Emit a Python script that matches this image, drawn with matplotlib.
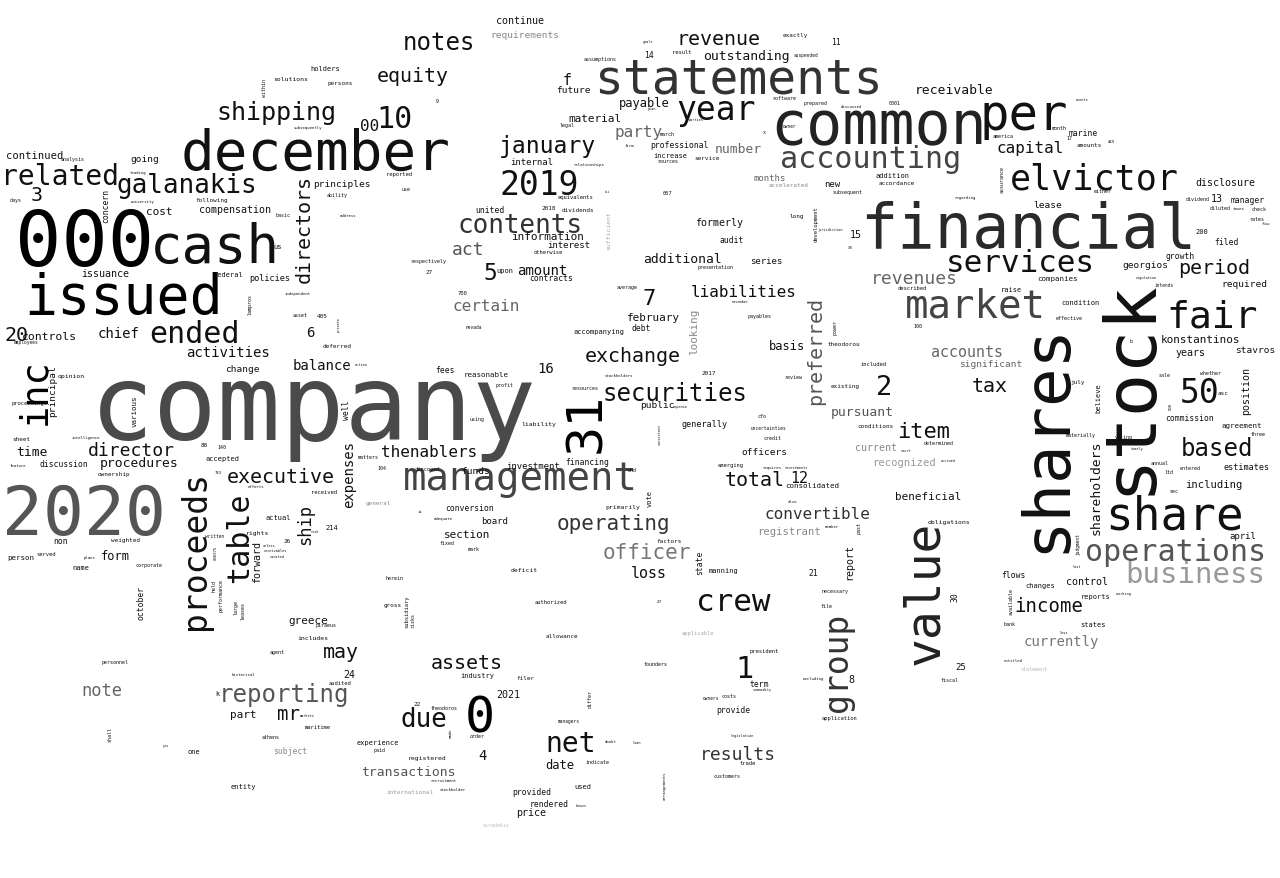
import matplotlib
matplotlib.use("Agg")
import matplotlib.pyplot as plt

# 词云数据：单词与字号（字号近似词频）
big_words = ["company", "financial", "statements", "common", "december", "000", "cash", "issued", "2020", "management",
             "market", "share", "per", "elvictor", "services", "fair", "operations", "business", "accounting", "crew",
             "net", "0", "year", "2019", "contents", "galanakis", "related", "shipping", "ended", "january",
             "reporting", "securities", "based", "item", "operating", "officer", "due", "50", "2", "1",
             "10", "3", "20", "5", "7"]
big_sizes = [106, 62, 48, 60, 56, 77, 54, 55, 68, 39,
             39, 46, 49, 35, 31, 38, 30, 29, 30, 31,
             28, 50, 33, 33, 26, 26, 28, 25, 30, 23,
             24, 24, 24, 22, 21, 21, 26, 33, 27, 30,
             30, 20, 20, 23, 22]

mid_words = ["exchange", "executive", "revenue", "period", "assets", "income", "total", "tax", "may", "mr",
             "director", "results", "revenues", "equity", "notes", "act", "note", "thenablers", "capital", "party",
             "liabilities", "certain", "convertible", "00", "accounts", "loss", "f", "12", "chief", "activities",
             "balance", "amount", "currently", "16", "6", "4", "time", "procedures", "receivable", "outstanding",
             "number", "additional", "pursuant", "transactions", "date", "payable", "basis", "form", "controls", "cost",
             "konstantinos", "february", "material", "information", "beneficial", "section", "greece", "part", "including", "recognized",
             "registrant", "continued", "continue", "13", "15", "8", "24", "2021", "disclosure", "years",
             "current", "control", "formerly", "compensation", "issuance", "price"]
mid_sizes = [20, 20, 20, 20, 20, 19, 20, 20, 20, 19,
             18, 18, 18, 20, 24, 18, 17, 16, 16, 16,
             16, 16, 16, 16, 15, 15, 15, 15, 14, 14,
             14, 14, 14, 14, 14, 14, 13, 13, 13, 13,
             13, 13, 13, 13, 12, 12, 12, 12, 11.5, 11,
             11, 11, 11, 11, 11, 11, 11, 11, 10.5, 10.5,
             10.5, 10.5, 10, 10, 10, 10, 10, 10, 10, 10,
             10, 10, 10, 10, 10, 10]

small_words = ["requirements", "future", "lease", "georgios", "required", "stavros", "significant", "going", "principles", "change",
               "public", "officers", "funds", "internal", "months", "new", "interest", "series", "april", "investment",
               "board", "25", "estimates", "policies", "generally", "marine", "manager", "filed", "growth", "professional",
               "commission", "flows", "united", "audit", "contracts", "discussion", "non", "subject", "debt", "fees",
               "conversion", "financing", "term", "provide", "provided", "rendered", "11", "14", "21", "agreement",
               "companies", "person", "reasonable", "consolidated", "addition", "raise", "condition", "changes", "reports", "states",
               "increase", "upon", "holders", "us", "federal", "accepted", "actual", "214", "name", "k",
               "experience", "one", "entity", "industry", "used", "accompanying", "manning", "200", "obligations", "opinion",
               "solutions", "rights", "includes", "registered", "liability", "primarily", "deficit", "accordance", "exactly", "service",
               "accelerated", "long", "dividends", "2018", "2017", "theodorou", "existing", "july", "asc", "conditions",
               "amounts", "persons", "following", "deferred", "sheet", "ownership", "weighted", "general", "gross", "international",
               "allowance", "filer", "factors", "405", "26", "27", "80", "22"]
small_sizes = [9.5, 9.5, 9.5, 9.5, 9.5, 9.5, 9.5, 9.5, 9.5, 9.5,
               9.5, 9.5, 9.5, 9, 9, 9, 9, 9, 9, 9,
               9, 9, 8.5, 8.5, 8.5, 8, 8, 8, 8, 8,
               8, 8, 8, 8, 8, 8, 8, 8, 8, 8,
               8, 8, 8, 8, 8, 8, 8, 8, 8, 7.5,
               7.5, 7.5, 7.5, 7.5, 7, 7, 7, 7, 7, 7,
               7, 7, 7, 7, 7, 7, 7, 7, 7, 7,
               7, 7, 7, 7, 7, 7, 7, 7, 6.5, 6.5,
               6.5, 6.5, 6.5, 6.5, 6.5, 6.5, 6.5, 6, 6, 6,
               6, 6, 6, 6, 6, 6, 6, 6, 6, 6,
               6, 6, 6, 6, 6, 6, 6, 6, 6, 6,
               6, 6, 6, 6, 6, 6, 6, 6]

tiny_words = ["included", "described", "result", "reported", "proceedings", "discount", "received", "served", "audited", "maritime",
              "authorized", "applicable", "president", "application", "trade", "equivalents", "otherwise", "emerging", "700", "057",
              "subsequent", "either", "dividend", "diluted", "check", "rates", "america", "month", "effective", "b",
              "sale", "whether", "materially", "voting", "three", "determined", "annual", "entered", "ltd", "sec",
              "bank", "statement", "fiscal", "assumptions", "software", "prepared", "legal", "march", "sources", "presentation",
              "average", "respectively", "analysis", "days", "ability", "basic", "use", "asset", "matters", "corporate",
              "herein", "piraeus", "agent", "personnel", "athens", "paid", "necessary", "file", "founders", "costs",
              "theodoros", "order", "indicate", "customers", "xiradakis", "payables", "profit", "resources", "review", "using",
              "cfo", "credit", "end", "fixed", "mark", "140", "104", "100", "0001", "17",
              "9", "x", "owner", "suspended", "intends", "employees", "written", "managers", "owners", "nevada",
              "uncertainties", "regarding", "taxes", "firm", "relationships", "trading", "university", "address", "subsequently", "independent",
              "intelligence", "feature", "efforts", "plans", "historical", "recruitment", "stockholder", "stockholders", "doubt", "requires",
              "adequate", "also", "member", "449", "743", "ii", "discussed", "excluding", "entitled", "flow",
              "regulation", "events", "goals", "plan", "parties", "jurisdiction", "court", "accrued", "timely", "last",
              "working", "less", "action", "risk", "unless", "receivables", "vacated", "markets", "yes", "known",
              "commodity", "legislation", "loan", "november", "expense", "investments", "iii", "297", "105"]
tiny_sizes = [5.5, 5.5, 5.5, 5.5, 5.5, 5.5, 5.5, 5.5, 5.5, 5.5,
              5.5, 5.5, 5.5, 5.5, 5.5, 5.5, 5.5, 5.5, 5.5, 5.5,
              5, 5, 5, 5, 5, 5, 5, 5, 5, 5,
              5, 5, 5, 5, 5, 5, 5, 5, 5, 5,
              5, 5, 5, 5, 5, 5, 5, 5, 5, 5,
              5, 5, 5, 5, 5, 5, 5, 5, 5, 5,
              5, 5, 5, 5, 5, 5, 5, 5, 5, 5,
              5, 5, 5, 5, 5, 5, 5, 5, 5, 5,
              5, 5, 5, 5, 5, 5, 5, 5, 5, 5,
              5, 5, 4.5, 4.5, 4.5, 4.5, 4.5, 4.5, 4.5, 4.5,
              4.5, 4, 4, 4, 4, 4, 4, 4, 4, 4,
              4, 4, 4, 4, 4, 4, 4, 4, 4, 4,
              4, 4, 4, 4, 4, 4, 4, 4, 4, 3.5,
              3.5, 3.5, 3.5, 3.5, 3.5, 3.5, 3.5, 3.5, 3.5, 3.5,
              3.5, 3.5, 3.5, 3.5, 3.5, 3.5, 3.5, 3.5, 3.5, 3.5,
              3.5, 3.5, 3.5, 3.5, 3.5, 3.5, 3, 3, 3]

# 竖排的单词
vert_words = ["shares", "stock", "value", "proceeds", "table", "group", "31", "inc", "directors", "preferred",
              "expenses", "shareholders", "ship", "forward", "looking", "report", "position", "principal", "october", "various",
              "well", "concern", "believe", "state", "vote", "30", "sufficient", "development", "subsidiary", "risks",
              "available", "within", "lampros", "performance", "held", "large", "leases", "shall", "differ", "made",
              "arrangements", "judgment", "assurance", "power", "past", "500", "private", "000375", "consistent"]
vert_sizes = [64, 72, 48, 33, 30, 33, 50, 37, 20, 20,
              14, 13, 17, 10, 11, 10, 10, 9.5, 8, 7.5,
              8, 8, 7, 8, 7, 8, 6.5, 5.5, 5.5, 5,
              5, 5, 5, 5, 5, 5, 5, 5, 5, 4,
              4, 4.5, 5, 5, 5, 4, 3.5, 4, 3.5]

# 版面：横排为 (左端x, 基线y)，竖排为 (基线x, 底端y)，单位为像素
layout = {
    "company": (90, 440), "financial": (860, 248), "statements": (594, 94), "common": (770, 144),
    "december": (181, 170), "000": (15, 266), "cash": (150, 263), "issued": (24, 314), "2020": (2, 535),
    "management": (403, 490), "market": (905, 318), "share": (1105, 530), "per": (979, 130),
    "elvictor": (1010, 190), "services": (946, 272), "fair": (1166, 328), "operations": (1085, 561),
    "business": (1125, 583), "accounting": (780, 168), "crew": (696, 611), "net": (545, 752),
    "0": (465, 733), "year": (676, 120), "2019": (500, 195), "contents": (457, 233),
    "galanakis": (117, 193), "related": (1, 185), "shipping": (216, 120), "ended": (149, 343),
    "january": (499, 153), "reporting": (219, 702), "securities": (603, 401), "based": (1181, 456),
    "item": (897, 438), "operating": (557, 530), "officer": (603, 559), "due": (400, 727),
    "50": (1180, 403), "2": (876, 395), "1": (735, 678), "10": (376, 128), "3": (31, 201),
    "20": (4, 341), "5": (483, 280), "7": (643, 305),
    # 中等
    "exchange": (585, 362), "executive": (227, 483), "revenue": (677, 45), "period": (1178, 274),
    "assets": (431, 669), "income": (1014, 612), "total": (725, 486), "tax": (972, 392),
    "may": (323, 658), "mr": (277, 720), "director": (88, 456), "results": (700, 760),
    "revenues": (871, 284), "equity": (377, 82), "notes": (403, 50), "act": (452, 255),
    "note": (81, 696), "thenablers": (381, 457), "capital": (996, 153), "party": (614, 137),
    "liabilities": (691, 297), "certain": (453, 311), "convertible": (764, 519), "00": (360, 131),
    "accounts": (931, 357), "loss": (631, 578), "f": (563, 85), "12": (790, 483),
    "chief": (98, 338), "activities": (186, 357), "balance": (293, 370), "amount": (517, 275),
    "currently": (1024, 646), "16": (537, 373), "6": (306, 337), "4": (478, 760),
    "time": (16, 456), "procedures": (100, 467), "receivable": (915, 94), "outstanding": (703, 60),
    "number": (715, 153), "additional": (643, 263), "pursuant": (831, 416), "transactions": (361, 776),
    "date": (545, 769), "payable": (619, 107), "basis": (769, 350), "form": (101, 560),
    "controls": (22, 340), "cost": (146, 215), "konstantinos": (1161, 343), "february": (627, 321),
    "material": (568, 122), "information": (511, 240), "beneficial": (895, 500), "section": (444, 538),
    "greece": (288, 624), "part": (230, 718), "including": (1185, 488), "recognized": (872, 466),
    "registrant": (757, 535), "continued": (6, 159), "continue": (496, 24), "13": (1211, 202),
    "15": (850, 238), "8": (848, 683), "24": (343, 678), "2021": (496, 698), "disclosure": (1195, 186),
    "years": (1175, 356), "current": (855, 451), "control": (1066, 585), "formerly": (695, 226),
    "compensation": (199, 213), "issuance": (81, 277), "price": (516, 816),
    # 较小
    "requirements": (490, 38), "future": (556, 93), "lease": (1033, 208), "georgios": (1122, 268),
    "required": (1221, 287), "stavros": (1235, 353), "significant": (959, 367), "going": (130, 162),
    "principles": (313, 187), "change": (225, 372), "public": (640, 408), "officers": (741, 455),
    "funds": (461, 474), "internal": (510, 165), "months": (753, 181), "new": (824, 187),
    "interest": (547, 248), "series": (750, 264), "april": (1229, 539), "investment": (506, 469),
    "board": (481, 524), "25": (955, 670), "estimates": (1223, 470), "policies": (249, 281),
    "generally": (682, 427), "marine": (1069, 136), "manager": (1231, 203), "filed": (1214, 245),
    "growth": (1166, 259), "professional": (650, 148), "commission": (1165, 421), "flows": (1001, 578),
    "united": (475, 213), "audit": (720, 243), "contracts": (529, 281), "discussion": (40, 467),
    "non": (53, 544), "subject": (273, 754), "debt": (631, 331), "fees": (435, 373),
    "conversion": (445, 511), "financing": (565, 465), "term": (750, 687), "provide": (716, 713),
    "provided": (512, 795), "rendered": (530, 807), "11": (831, 45), "14": (644, 58), "21": (808, 576),
    "agreement": (1221, 428), "companies": (1037, 281), "person": (7, 560), "reasonable": (464, 377),
    "consolidated": (785, 488), "addition": (876, 178), "raise": (1001, 292), "condition": (1061, 305),
    "changes": (1025, 588), "reports": (1081, 599), "states": (1080, 627), "increase": (653, 158),
    "upon": (496, 273), "holders": (310, 71), "us": (273, 249), "federal": (213, 277),
    "accepted": (205, 461), "actual": (266, 520), "214": (325, 530), "name": (72, 570), "k": (215, 696),
    "experience": (357, 745), "one": (188, 754), "entity": (231, 789), "industry": (460, 678),
    "used": (574, 789), "accompanying": (574, 334), "manning": (709, 573), "200": (1195, 234),
    "obligations": (928, 524), "opinion": (58, 378), "solutions": (273, 81), "rights": (246, 535),
    "includes": (297, 640), "registered": (408, 760), "liability": (521, 426), "primarily": (605, 509),
    "deficit": (511, 572), "accordance": (879, 185), "exactly": (783, 37), "service": (694, 160),
    "accelerated": (769, 187), "long": (789, 218), "dividends": (562, 212), "2018": (541, 210),
    "2017": (702, 375), "theodorou": (828, 346), "existing": (831, 388), "july": (1070, 384),
    "asc": (1218, 395), "conditions": (857, 428), "amounts": (1077, 147), "persons": (328, 85),
    "following": (195, 202), "deferred": (323, 348), "sheet": (12, 441), "ownership": (98, 476),
    "weighted": (111, 542), "general": (366, 505), "gross": (384, 607), "international": (386, 794),
    "allowance": (546, 638), "filer": (516, 680), "factors": (656, 543), "405": (317, 318),
    "26": (283, 543), "27": (426, 274), "80": (201, 447), "22": (414, 706),
    # 很小
    "included": (860, 366), "described": (898, 290), "result": (672, 54), "reported": (386, 176),
    "proceedings": (12, 405), "discount": (415, 471), "received": (311, 494), "served": (36, 556),
    "audited": (329, 685), "maritime": (305, 729), "authorized": (535, 604), "applicable": (682, 635),
    "president": (750, 653), "application": (822, 720), "trade": (740, 765), "equivalents": (558, 199),
    "otherwise": (534, 254), "emerging": (718, 467), "700": (458, 295), "057": (663, 195),
    "subsequent": (833, 194), "either": (1094, 193), "dividend": (1186, 201), "diluted": (1210, 210),
    "check": (1252, 211), "rates": (1249, 221), "america": (993, 138), "month": (1052, 130),
    "effective": (1056, 320), "b": (1129, 343), "sale": (1159, 377), "whether": (1200, 375),
    "materially": (1066, 437), "voting": (1115, 439), "three": (1251, 436), "determined": (924, 445),
    "annual": (1151, 465), "entered": (1180, 470), "ltd": (1165, 474), "sec": (1170, 493),
    "bank": (1004, 626), "statement": (1021, 671), "fiscal": (940, 682), "assumptions": (584, 61),
    "software": (773, 100), "prepared": (803, 105), "legal": (560, 127), "march": (660, 136),
    "sources": (658, 163), "presentation": (698, 269), "average": (617, 289), "respectively": (410, 263),
    "analysis": (61, 161), "days": (10, 202), "ability": (327, 197), "basic": (276, 217),
    "use": (401, 191), "asset": (293, 317), "matters": (358, 459), "corporate": (135, 567),
    "herein": (386, 580), "piraeus": (315, 627), "agent": (270, 654), "personnel": (101, 664),
    "athens": (262, 739), "paid": (374, 752), "necessary": (822, 593), "file": (820, 608),
    "founders": (643, 666), "costs": (722, 698), "theodoros": (431, 710), "order": (470, 738),
    "indicate": (586, 764), "customers": (713, 778), "xiradakis": (483, 827), "payables": (748, 318),
    "profit": (495, 387), "resources": (571, 390), "review": (784, 379), "using": (470, 421),
    "cfo": (757, 418), "credit": (763, 440), "end": (628, 472), "fixed": (439, 545), "mark": (468, 551),
    "140": (217, 449), "104": (377, 470), "100": (913, 328), "0001": (889, 105), "17": (1066, 140),
    "9": (436, 103), "x": (763, 134), "owner": (783, 128), "suspended": (793, 57), "intends": (1155, 287),
    "employees": (14, 344), "written": (205, 538), "managers": (558, 723), "owners": (703, 700),
    "nevada": (466, 329), "uncertainties": (751, 430), "regarding": (954, 199), "taxes": (1233, 210),
    "firm": (625, 147), "relationships": (573, 166), "trading": (130, 174), "university": (131, 203),
    "address": (340, 217), "subsequently": (294, 129), "independent": (285, 295), "intelligence": (72, 439),
    "feature": (10, 467), "efforts": (248, 488), "plans": (84, 559), "historical": (232, 676),
    "recruitment": (430, 782), "stockholder": (440, 791), "stockholders": (605, 377), "doubt": (605, 743),
    "requires": (762, 469), "adequate": (434, 520), "also": (788, 503), "member": (825, 528),
    "449": (1108, 143), "743": (215, 474), "ii": (418, 513), "discussed": (841, 108),
    "excluding": (803, 680), "entitled": (1004, 662), "flow": (1262, 225), "regulation": (1135, 279),
    "events": (1076, 101), "goals": (643, 43), "plan": (648, 110), "parties": (689, 121),
    "jurisdiction": (818, 231), "court": (901, 452), "accrued": (941, 462), "timely": (1131, 450),
    "last": (1073, 568), "working": (1116, 595), "less": (1060, 634), "action": (355, 366),
    "risk": (310, 533), "unless": (263, 547), "receivables": (263, 552), "vacated": (270, 558),
    "markets": (300, 717), "yes": (163, 747), "known": (576, 807), "commodity": (753, 691),
    "legislation": (731, 737), "loan": (633, 744), "november": (732, 303), "expense": (673, 408),
    "investments": (785, 469), "iii": (605, 193), "297": (657, 603), "105": (848, 249),
    # 竖排
    "shares": (1064, 553), "stock": (1150, 495), "value": (938, 665), "proceeds": (205, 630),
    "table": (248, 583), "group": (847, 712), "31": (600, 453), "inc": (45, 425),
    "directors": (310, 283), "preferred": (821, 405), "expenses": (353, 508), "shareholders": (1100, 535),
    "ship": (310, 545), "forward": (260, 583), "looking": (697, 355), "report": (852, 580),
    "position": (1249, 415), "principal": (55, 417), "october": (143, 620), "various": (137, 427),
    "well": (349, 420), "concern": (108, 223), "believe": (1100, 413), "state": (702, 575),
    "vote": (652, 507), "30": (958, 602), "sufficient": (610, 250), "development": (818, 242),
    "subsidiary": (408, 628), "risks": (414, 628), "available": (1013, 615), "within": (266, 97),
    "lampros": (252, 315), "performance": (223, 612), "held": (216, 592), "large": (238, 615),
    "leases": (245, 620), "shall": (112, 742), "differ": (592, 708), "made": (452, 738),
    "arrangements": (666, 800), "judgment": (1080, 555), "assurance": (1004, 193), "power": (837, 335),
    "past": (860, 534), "500": (1172, 410), "private": (340, 332), "000375": (217, 560),
    "consistent": (661, 445),
}

# 灰度（0 为黑，255 为白），没有列出的用默认值
grays = {
    "company": 74, "financial": 42, "statements": 51, "common": 34, "2020": 85, "management": 68,
    "market": 68, "operations": 85, "business": 153, "accounting": 68, "contents": 51, "reporting": 85,
    "operating": 51, "officer": 119, "results": 51, "revenues": 102, "act": 85, "note": 102,
    "party": 102, "certain": 102, "convertible": 51, "accounts": 102, "currently": 119, "number": 102,
    "pursuant": 85, "transactions": 85, "recognized": 153, "registrant": 136, "current": 136,
    "requirements": 136, "significant": 102, "months": 102, "accelerated": 136, "subject": 136,
    "general": 136, "international": 153, "applicable": 170, "statement": 187, "xiradakis": 187,
    "sufficient": 170, "looking": 136, "preferred": 85, "group": 51, "value": 34,
    "000": 0, "0": 0, "issued": 0, "31": 0, "inc": 0,
}
DEFAULT_GRAY = 17

fig = plt.figure(figsize=(12.8, 8.79), dpi=100)
ax = fig.add_axes([0, 0, 1, 1])
ax.set_xlim(0, 1280)
ax.set_ylim(879, 0)
ax.axis("off")


def draw_group(words, sizes, rotation):
    for w, s in zip(words, sizes):
        x, y = layout[w]
        g = grays.get(w, DEFAULT_GRAY) / 255.0
        ax.text(x, y, w, fontsize=s * 0.72, family="DejaVu Sans Mono", color=(g, g, g),
                ha="left", va="baseline", rotation=rotation, rotation_mode="anchor")


draw_group(big_words, big_sizes, 0)
draw_group(mid_words, mid_sizes, 0)
draw_group(small_words, small_sizes, 0)
draw_group(tiny_words, tiny_sizes, 0)
draw_group(vert_words, vert_sizes, 90)

fig.savefig("out.png", dpi=100, facecolor="white")
